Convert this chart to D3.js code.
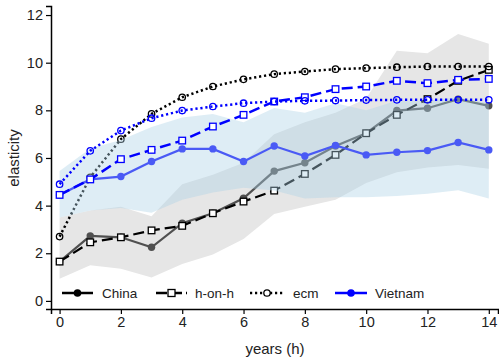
<!DOCTYPE html>
<html><head><meta charset="utf-8">
<script src="https://cdn.jsdelivr.net/npm/d3@7"></script>
<style>body{margin:0;background:#fff}svg{display:block}text{font-family:"Liberation Sans",Arial,sans-serif}</style>
</head><body><svg id="c" width="499" height="357"></svg>
<script>
const years = [0,1,2,3,4,5,6,7,8,9,10,11,12,13,14];
const china      = [1.65,2.73,2.67,2.25,3.26,3.68,4.31,5.45,5.8,6.5,7.04,7.99,8.09,8.47,8.19];
const chinaHoh   = [1.65,2.46,2.67,2.96,3.15,3.68,4.17,4.63,5.33,6.13,7.04,7.81,8.47,9.24,9.7];
const chinaEcm   = [2.7,5.19,6.79,7.85,8.55,9.0,9.3,9.52,9.63,9.73,9.77,9.81,9.84,9.84,9.84];
const vietnam    = [4.45,5.1,5.22,5.85,6.38,6.38,5.85,6.5,6.08,6.53,6.13,6.24,6.31,6.65,6.34];
const vietnamHoh = [4.45,5.1,5.95,6.34,6.73,7.32,7.81,8.37,8.55,8.89,9.0,9.24,9.14,9.28,9.32];
const vietnamEcm = [4.9,6.3,7.15,7.67,7.99,8.16,8.3,8.37,8.4,8.41,8.43,8.44,8.44,8.44,8.44];
const chinaLo = [0.93,1.5,1.35,0.98,1.55,1.95,2.6,3.65,3.95,4.25,4.95,5.4,5.6,5.7,5.55];
const chinaHi = [3.5,3.8,3.95,3.55,4.9,5.3,5.8,7.0,7.5,7.9,8.5,10.5,10.4,11.2,10.8];
const vietLo  = [3.5,3.8,3.9,3.7,4.25,4.55,4.75,4.63,4.3,4.35,4.35,4.4,4.5,4.65,4.3];
const vietHi  = [5.45,6.4,6.75,7.3,7.7,7.85,7.5,8.1,7.9,8.3,8.0,8.4,8.4,8.55,8.3];
const yTicks = [0,2,4,6,8,10,12];
const xTicks = [0,2,4,6,8,10,12,14];
const legendLabels = ["China","h-on-h","ecm","Vietnam"];

const svg = d3.select("#c");
const x = d3.scaleLinear().domain([-0.28,14.3]).range([51,498]);
const y = d3.scaleLinear().domain([-0.34,12.38]).range([309,6]);

const area = (lo,hi)=>d3.area().x((d,i)=>x(years[i])).y0((d,i)=>y(lo[i])).y1((d,i)=>y(hi[i]))(years);
const line = (vals)=>d3.line().x((d,i)=>x(years[i])).y((d,i)=>y(vals[i]))(years);

// China band
svg.append("path").attr("d",area(chinaLo,chinaHi)).attr("fill","#e6e6e6");

function drawSeries(vals, o){
  svg.append("path").attr("d",line(vals)).attr("fill","none").attr("stroke",o.color)
    .attr("stroke-width",o.w||2.2).attr("stroke-dasharray",o.dash||null);
  const g = svg.append("g");
  years.forEach((yr,i)=>{
    const cx=x(yr), cy=y(vals[i]);
    if(o.marker==="dot") g.append("circle").attr("cx",cx).attr("cy",cy).attr("r",3.7).attr("fill",o.mcolor||o.color);
    else if(o.marker==="square") g.append("rect").attr("x",cx-3.3).attr("y",cy-3.3).attr("width",6.6).attr("height",6.6).attr("fill","#fff").attr("stroke",o.mcolor||o.color).attr("stroke-width",1.3);
    else if(o.marker==="ring") g.append("circle").attr("cx",cx).attr("cy",cy).attr("r",3.2).attr("fill","none").attr("stroke",o.mcolor||o.color).attr("stroke-width",1.3);
  });
}
// China series
drawSeries(china,{color:"#505050",marker:"dot",w:2.2});
drawSeries(chinaHoh,{color:"#000",marker:"square",dash:"11,5",w:2.2});
drawSeries(chinaEcm,{color:"#000",marker:"ring",dash:"2.2,2.8",w:2.5});

// Vietnam band (semi-transparent, drawn over China lines)
svg.append("path").attr("d",area(vietLo,vietHi)).attr("fill","rgb(173,210,230)").attr("fill-opacity",0.4);

drawSeries(vietnam,{color:"#4a5af5",marker:"dot",w:2.2});
drawSeries(vietnamHoh,{color:"#0000ff",marker:"square",dash:"11,5",w:2.5});
drawSeries(vietnamEcm,{color:"#0000ff",marker:"ring",dash:"2.2,2.8",w:2.5});

// Axes
const yAxis = svg.append("g").attr("transform","translate(51,0)")
  .call(d3.axisLeft(y).tickValues(yTicks).tickSize(5).tickPadding(3).tickFormat(d3.format("d")));
const xAxis = svg.append("g").attr("transform","translate(0,309)")
  .call(d3.axisBottom(x).tickValues(xTicks).tickSize(5).tickPadding(3).tickFormat(d3.format("d")));
[yAxis,xAxis].forEach(a=>{
  a.select(".domain").attr("stroke","#000").attr("stroke-width",1.5);
  a.selectAll(".tick line").attr("stroke","#000").attr("stroke-width",1.2);
  a.selectAll(".tick text").attr("fill","#222").style("font-size","14.5px").style("font-family","'Liberation Sans',Arial,sans-serif");
});

svg.append("text").attr("transform","translate(19,158) rotate(-90)").attr("text-anchor","middle")
  .attr("fill","#222").style("font-size","15px").text("elasticity");
svg.append("text").attr("x",275).attr("y",354).attr("text-anchor","middle")
  .attr("fill","#222").style("font-size","15px").text("years (h)");

// Legend
const legY = 293;
const leg = [
  {x0:62,x1:93,color:"#000",dash:null,marker:"dot",tx:102},
  {x0:156,x1:187,color:"#000",dash:"11,4",marker:"square",tx:195},
  {x0:250,x1:284,color:"#000",dash:"2.2,2.8",marker:"ring",tx:293},
  {x0:335,x1:367,color:"#0000ff",dash:null,marker:"dot",tx:375}
];
leg.forEach((l,i)=>{
  svg.append("line").attr("x1",l.x0).attr("x2",l.x1).attr("y1",legY).attr("y2",legY)
    .attr("stroke",l.color).attr("stroke-width",2.5).attr("stroke-dasharray",l.dash);
  const cx=(l.x0+l.x1)/2;
  if(l.marker==="dot") svg.append("circle").attr("cx",cx).attr("cy",legY).attr("r",3.8).attr("fill",l.color);
  else if(l.marker==="square") svg.append("rect").attr("x",cx-3.5).attr("y",legY-3.5).attr("width",7).attr("height",7).attr("fill","#fff").attr("stroke",l.color).attr("stroke-width",1.3);
  else svg.append("circle").attr("cx",cx).attr("cy",legY).attr("r",3.2).attr("fill","#fff").attr("stroke",l.color).attr("stroke-width",1.3);
  svg.append("text").attr("x",l.tx).attr("y",legY+5).attr("fill","#222").style("font-size","13.5px").text(legendLabels[i]);
});
</script></body></html>
